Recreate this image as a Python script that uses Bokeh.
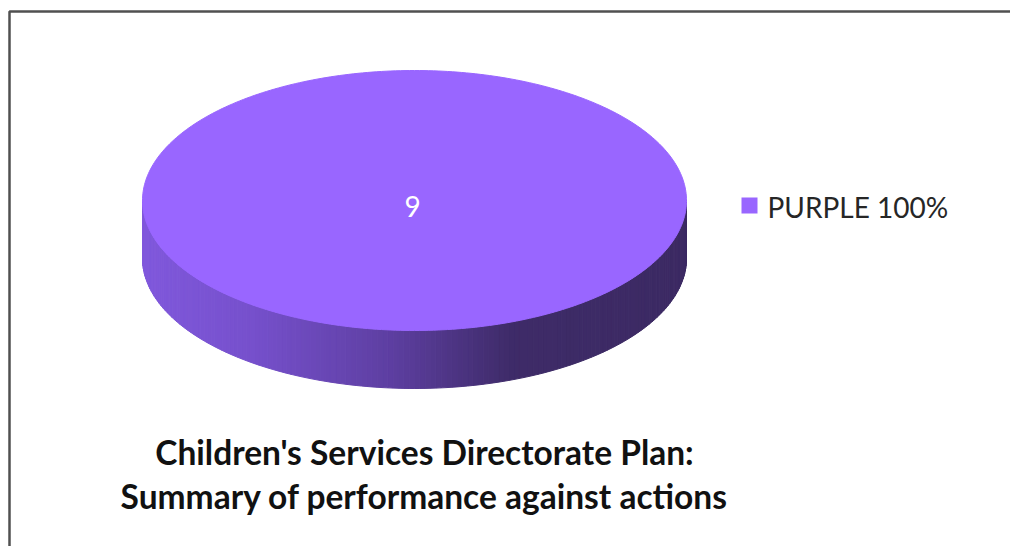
import numpy as np
from bokeh.plotting import figure
from bokeh.models import Range1d
from bokeh.core.properties import value
from bokeh.embed import file_html
from bokeh.resources import INLINE

# ---- data ----
categories = ["PURPLE"]
values = [9]
percents = ["100%"]
colors = ["#9966FF"]
title_lines = ["Children's Services Directorate Plan:", "Summary of performance against actions"]

W, H = 1010, 546
p = figure(width=W, height=H, output_backend="svg", toolbar_location=None,
           x_range=Range1d(0, W), y_range=Range1d(H, 0),
           x_axis_location=None, y_axis_location=None, min_border=0)
p.grid.visible = False
p.outline_line_color = None
p.background_fill_color = "white"
p.border_fill_color = "white"

# frame lines (top and left)
p.line([9, 9, W + 5], [H + 5, 11, 11], line_color="#505050", line_width=2.5)

# pie geometry
cx, cy, rx, ry, depth = 414.0, 200.0, 272.0, 130.0, 58.0
total = float(sum(values))
angles = np.cumsum([0.0] + [v / total * 2 * np.pi for v in values])

def ell(t):
    return cx + rx * np.cos(t), cy + ry * np.sin(t)

# side (front half), gradient strips
stops_x = [0.0, 0.2, 0.45, 0.68, 1.0]
stops_c = [(128, 88, 220), (118, 80, 204), (94, 63, 162), (62, 43, 104), (60, 42, 99)]
def side_color(xpos):
    f = (xpos - (cx - rx)) / (2 * rx)
    c = [np.interp(f, stops_x, [s[k] for s in stops_c]) for k in range(3)]
    return "#%02x%02x%02x" % tuple(int(round(v)) for v in c)

N = 160
ts = np.linspace(0, np.pi, N + 1)
xs_l, ys_l, cols = [], [], []
for i in range(N):
    x0, y0 = ell(ts[i]); x1, y1 = ell(ts[i + 1])
    xs_l.append([x0, x1, x1, x0]); ys_l.append([y0, y1, y1 + depth, y0 + depth])
    cols.append(side_color((x0 + x1) / 2))
p.patches(xs_l, ys_l, fill_color=cols, line_color=cols, line_width=1)

# top slices
for i, c in enumerate(colors):
    t = np.linspace(angles[i], angles[i + 1], 361)
    x, y = ell(t)
    if values[i] < total:
        x = np.concatenate([[cx], x]); y = np.concatenate([[cy], y])
    p.patch(list(x), list(y), fill_color=c, line_color=c, line_width=1)
    mid = (angles[i] + angles[i + 1]) / 2
    lx, ly = (cx, cy) if values[i] == total else ell(mid)
    p.text([lx - 2], [ly + 6], text=[str(values[i])], text_color="white",
           text_font=value("Lato"), text_font_size="28px",
           text_align="center", text_baseline="middle")

# legend
for i, (cat, c) in enumerate(zip(categories, colors)):
    p.rect([749], [205], width=16, height=16, fill_color=c, line_color=None)
    p.text([767], [206], text=[f"{cat} {percents[i]}"], text_color="#262626",
           text_font=value("Lato"), text_font_size="28px",
           text_align="left", text_baseline="middle")

# title
p.text([424, 424], [451, 495], text=title_lines, text_color="#111111",
       text_font=value("Lato"), text_font_size="33.5px", text_font_style="bold",
       text_align="center", text_baseline="alphabetic")

open("out.html", "w").write(file_html(p, INLINE))
